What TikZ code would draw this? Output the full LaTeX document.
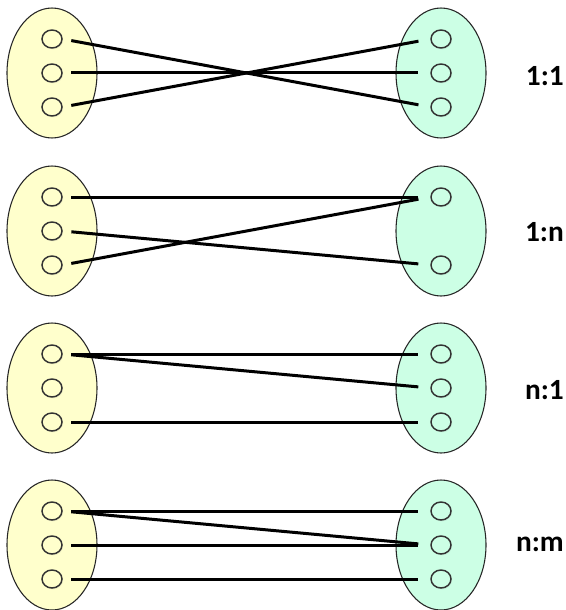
\documentclass[tikz,border=0pt]{standalone}
\usepackage{fontspec}
\setmainfont{Carlito}
\usetikzlibrary{shapes.geometric,shadows}
\definecolor{leftfill}{RGB}{255,255,204}
\definecolor{rightfill}{RGB}{204,255,229}
\tikzset{
  pool/.style={ellipse, draw=black!85, line width=0.8pt, minimum width=67.5pt, minimum height=97.5pt, inner sep=0pt},
  elem/.style={ellipse, draw=black!80, line width=1.1pt, minimum width=15pt, minimum height=13.5pt, inner sep=0pt,
    drop shadow={shadow xshift=0.8pt, shadow yshift=-1pt, opacity=0.12}},
  link/.style={line width=2.25pt, shorten <=6.5pt, shorten >=9pt},
  cardlabel/.style={anchor=east, inner sep=0pt, font=\fontsize{22}{26}\selectfont\bfseries}
}

\begin{document}
\begin{tikzpicture}[x=0.75pt, y=-0.75pt]
			%%%%% START %%%%%
			\useasboundingbox (0,0) rectangle (565,610);
			
			% 1:1
			\node[pool, fill=leftfill] (a1) at (52,73) {};
			\node[pool, fill=rightfill] (b1) at (441,73) {};
			\node[elem, fill=leftfill] (a11) at (52,39) {};
			\node[elem, fill=leftfill] (a12) at (52,73) {};
			\node[elem, fill=leftfill] (a13) at (52,107) {};
			\node[elem, fill=rightfill] (b11) at (441,39) {};
			\node[elem, fill=rightfill] (b12) at (441,73) {};
			\node[elem, fill=rightfill] (b13) at (441,107) {};
			\draw[link] (a11.east) -- (b13.west);
			\draw[link] (a12.east) -- (b12.west);
			\draw[link] (a13.east) -- (b11.west);
			\node[cardlabel] (c1) at (564,76) {1:1};
			
			% 1:n
			\node[pool, fill=leftfill] (a2) at (52,231) {};
			\node[pool, fill=rightfill] (b2) at (441,231) {};
			\node[elem, fill=leftfill] (a21) at (52,197) {};
			\node[elem, fill=leftfill] (a22) at (52,231) {};
			\node[elem, fill=leftfill] (a23) at (52,265) {};
			\node[elem, fill=rightfill] (b21) at (441,197) {};
			\node[elem, fill=rightfill] (b22) at (441,265) {};
			\draw[link] (a21.east) -- (b21.west);
			\draw[link] (a22.east) -- (b22.west);
			\draw[link] (a23.east) -- (b21.west);
			\node[cardlabel] (c2) at (564,232) {1:n};
			
			% n:1
			\node[pool, fill=leftfill] (a3) at (52,388) {};
			\node[pool, fill=rightfill] (b3) at (441,388) {};
			\node[elem, fill=leftfill] (a31) at (52,354) {};
			\node[elem, fill=leftfill] (a32) at (52,388) {};
			\node[elem, fill=leftfill] (a33) at (52,422) {};
			\node[elem, fill=rightfill] (b31) at (441,354) {};
			\node[elem, fill=rightfill] (b32) at (441,388) {};
			\node[elem, fill=rightfill] (b33) at (441,422) {};
			\draw[link] (a31.east) -- (b31.west);
			\draw[link] (a31.east) -- (b32.west);
			\draw[link] (a33.east) -- (b33.west);
			\node[cardlabel] (c3) at (564,390) {n:1};
			
			% n:m
			\node[pool, fill=leftfill] (a4) at (52,545) {};
			\node[pool, fill=rightfill] (b4) at (441,545) {};
			\node[elem, fill=leftfill] (a41) at (52,511) {};
			\node[elem, fill=leftfill] (a42) at (52,545) {};
			\node[elem, fill=leftfill] (a43) at (52,579) {};
			\node[elem, fill=rightfill] (b41) at (441,511) {};
			\node[elem, fill=rightfill] (b42) at (441,545) {};
			\node[elem, fill=rightfill] (b43) at (441,579) {};
			\draw[link] (a41.east) -- (b41.west);
			\draw[link] (a41.east) -- (b42.west);
			\draw[link] (a42.east) -- (b42.west);
			\draw[link] (a43.east) -- (b43.west);
			\node[cardlabel] (c4) at (564,544) {n:m};
			
			%%%%% END %%%%%
\end{tikzpicture}
\end{document}
